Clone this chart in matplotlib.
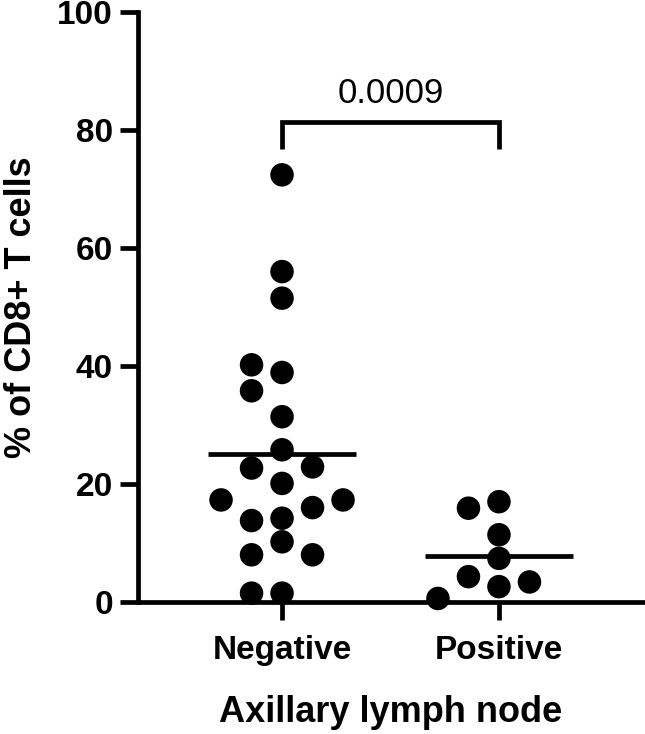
import numpy as np
import matplotlib
matplotlib.use("Agg")
import matplotlib.pyplot as plt

plt.rcParams['font.family'] = ['Liberation Sans', 'DejaVu Sans']

# ---- data ----
categories = ["Negative", "Positive"]
negative_vals = [72.4, 56.0, 51.5, 38.9, 40.2, 35.8, 31.4, 25.8, 22.7, 22.9,
                 20.1, 14.2, 13.8, 16.0, 17.3, 17.3, 10.2, 8.0, 8.0, 1.5, 1.5]
positive_vals = [17.0, 15.9, 11.4, 2.6, 4.3, 3.4, 0.6, 7.4]
p_value_text = "0.0009"
y_ticks = [0, 20, 40, 60, 80, 100]
bracket_top = 81.3
bracket_bottom = 76.8
p_text_y = 84.6

fig = plt.figure(figsize=(6.45, 7.34), dpi=100)
ax = fig.add_axes([138/645, (734-602)/734, (643-138)/645, (602-12)/734])
ax.set_xlim(-0.664, 1.664)
ax.set_ylim(0, 100)

LW = 3.4
for s in ['top', 'right']:
    ax.spines[s].set_visible(False)
for s in ['left', 'bottom']:
    ax.spines[s].set_linewidth(LW)
    ax.spines[s].set_capstyle('projecting')

ax.set_yticks(y_ticks)
ax.set_xticks(range(len(categories)))
ax.set_xticklabels(categories)
ax.tick_params(axis='both', length=13, width=LW, labelsize=24, pad=5)
ax.tick_params(axis='x', pad=11)
for lab in ax.get_xticklabels() + ax.get_yticklabels():
    lab.set_fontweight('bold')

ax.set_ylabel("% of CD8+ T cells", fontsize=26, fontweight='bold', labelpad=13)
ax.set_xlabel("Axillary lymph node", fontsize=26, fontweight='bold', labelpad=21)

MARKER_PX = 23.5
COLL_PX = 22.5
STEP_PX = 30.5


def swarm_offsets(xc, vals):
    placed = []
    xs = []
    x0 = ax.transData.transform((xc, 0))[0]
    cands = [0]
    for k in range(1, 8):
        cands += [-k, k]
    inv = ax.transData.inverted()
    for v in vals:
        y = ax.transData.transform((xc, v))[1]
        x = x0
        for k in cands:
            x = x0 + k * STEP_PX
            if all((x - px) ** 2 + (y - py) ** 2 >= COLL_PX ** 2 for px, py in placed):
                break
        placed.append((x, y))
        xs.append(inv.transform((x, y))[0])
    return xs


groups = [negative_vals, positive_vals]
msize = MARKER_PX / fig.dpi * 72
for i, vals in enumerate(groups):
    xs = swarm_offsets(i, vals)
    ax.scatter(xs, vals, s=msize ** 2, color='black', edgecolors='none',
               zorder=3, clip_on=False)
    m = np.mean(vals)
    ax.plot([i - 0.34, i + 0.34], [m, m], color='black', lw=LW, zorder=4,
            solid_capstyle='butt')

# significance bracket
ax.plot([0, 0, 1, 1], [bracket_bottom, bracket_top, bracket_top, bracket_bottom],
        color='black', lw=LW, solid_capstyle='butt', solid_joinstyle='miter',
        clip_on=False)
ax.text(0.5, p_text_y, p_value_text, ha='center', va='baseline', fontsize=25)

fig.savefig("out.png", dpi=100)
